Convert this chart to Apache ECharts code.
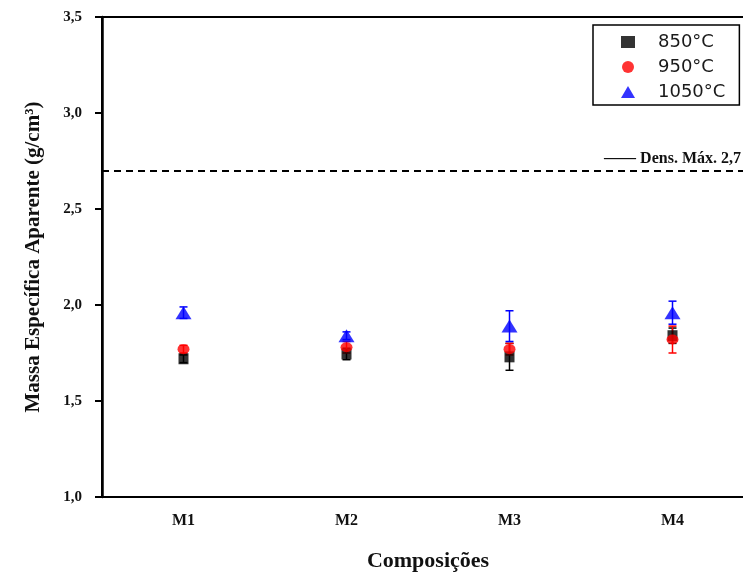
<!DOCTYPE html>
<html><head><meta charset="utf-8">
<script src="https://cdn.jsdelivr.net/npm/echarts@6/dist/echarts.min.js"></script>
<style>html,body{margin:0;padding:0;background:#fff;overflow:hidden;width:743px;height:578px}#c{width:760px;height:578px}</style>
</head><body><div id="c"></div>
<script>
var categories = ['M1', 'M2', 'M3', 'M4'];
var seriesNames = ['850°C', '950°C', '1050°C'];
var v850 = [1.72, 1.745, 1.73, 1.84];
var e850 = [0.02, 0.03, 0.07, 0.04];
var v950 = [1.77, 1.78, 1.77, 1.82];
var e950 = [0.02, 0.03, 0.03, 0.07];
var v1050 = [1.96, 1.84, 1.89, 1.96];
var e1050 = [0.03, 0.02, 0.08, 0.06];
var refValue = 2.7;
var refLabel = '—— Dens. Máx. 2,7';

var serif = 'Liberation Serif';
function errSeries(vals, errs, color) {
  return {
    type: 'custom', silent: true, z: 2,
    data: vals.map(function (v, i) { return [i, v - errs[i], v + errs[i]]; }),
    renderItem: function (params, api) {
      var lo = api.coord([api.value(0), api.value(1)]);
      var hi = api.coord([api.value(0), api.value(2)]);
      var w = 4;
      var st = { stroke: color, lineWidth: 1.5 };
      return { type: 'group', children: [
        { type: 'line', shape: { x1: lo[0], y1: lo[1], x2: hi[0], y2: hi[1] }, style: st },
        { type: 'line', shape: { x1: lo[0] - w, y1: lo[1], x2: lo[0] + w, y2: lo[1] }, style: st },
        { type: 'line', shape: { x1: hi[0] - w, y1: hi[1], x2: hi[0] + w, y2: hi[1] }, style: st }
      ]};
    }
  };
}
var chart = echarts.init(document.getElementById('c'));
chart.setOption({
  animation: false,
  grid: { left: 102, top: 17, width: 652, height: 480, show: true, borderColor: '#000', borderWidth: 2 },
  legend: {
    orient: 'vertical', left: 593, top: 25,
    padding: [8, 14, 4, 28], itemGap: 7, itemWidth: 14, itemHeight: 12,
    borderColor: '#000', borderWidth: 1.5, backgroundColor: '#fff',
    textStyle: { fontFamily: 'DejaVu Sans', fontSize: 18, color: '#1a1a1a', padding: [0, 0, 0, 18] },
    data: seriesNames
  },
  xAxis: {
    type: 'category', data: categories,
    axisLine: { lineStyle: { color: '#000', width: 2 } },
    axisTick: { alignWithLabel: true, length: 7, lineStyle: { color: '#000', width: 2 } },
    axisLabel: { fontFamily: serif, fontWeight: 'bold', fontSize: 16, color: '#111', margin: 16 },
    name: 'Composições', nameLocation: 'middle', nameGap: 53,
    nameTextStyle: { fontFamily: serif, fontWeight: 'bold', fontSize: 22, color: '#111' }
  },
  yAxis: {
    type: 'value', min: 1.0, max: 3.5, interval: 0.5,
    splitLine: { show: false },
    axisLine: { show: true, lineStyle: { color: '#000', width: 2.5 } },
    axisTick: { show: true, length: 7, lineStyle: { color: '#000', width: 2 } },
    axisLabel: { fontFamily: serif, fontWeight: 'bold', fontSize: 15, color: '#111', margin: 20,
      formatter: function (v) { return v.toFixed(1).replace('.', ','); } },
    name: 'Massa Específica Aparente (g/cm³)', nameLocation: 'middle', nameGap: 58,
    nameTextStyle: { fontFamily: serif, fontWeight: 'bold', fontSize: 21, color: '#111' }
  },
  series: [
    errSeries(v850, e850, '#000'),
    { name: seriesNames[0], type: 'scatter', data: v850, symbol: 'rect', symbolSize: [10, 11], z: 3,
      itemStyle: { color: '#000' },
      markLine: { silent: true, symbol: 'none',
        lineStyle: { type: [7, 5], color: '#000', width: 2 },
        label: { show: true, position: 'insideEndTop', formatter: refLabel, distance: [0, 4],
          padding: [0, 13, 0, 0],
          fontFamily: serif, fontWeight: 'bold', fontSize: 16, color: '#111' },
        data: [{ yAxis: refValue }] } },
    errSeries(v950, e950, '#ff0000'),
    { name: seriesNames[1], type: 'scatter', data: v950, symbol: 'circle', symbolSize: [12, 10], z: 4,
      itemStyle: { color: '#ff0000' } },
    errSeries(v1050, e1050, '#0000ff'),
    { name: seriesNames[2], type: 'scatter', data: v1050, symbol: 'triangle', symbolSize: [16, 13], z: 5,
      itemStyle: { color: '#0000ff' } }
  ]
});
</script></body></html>
